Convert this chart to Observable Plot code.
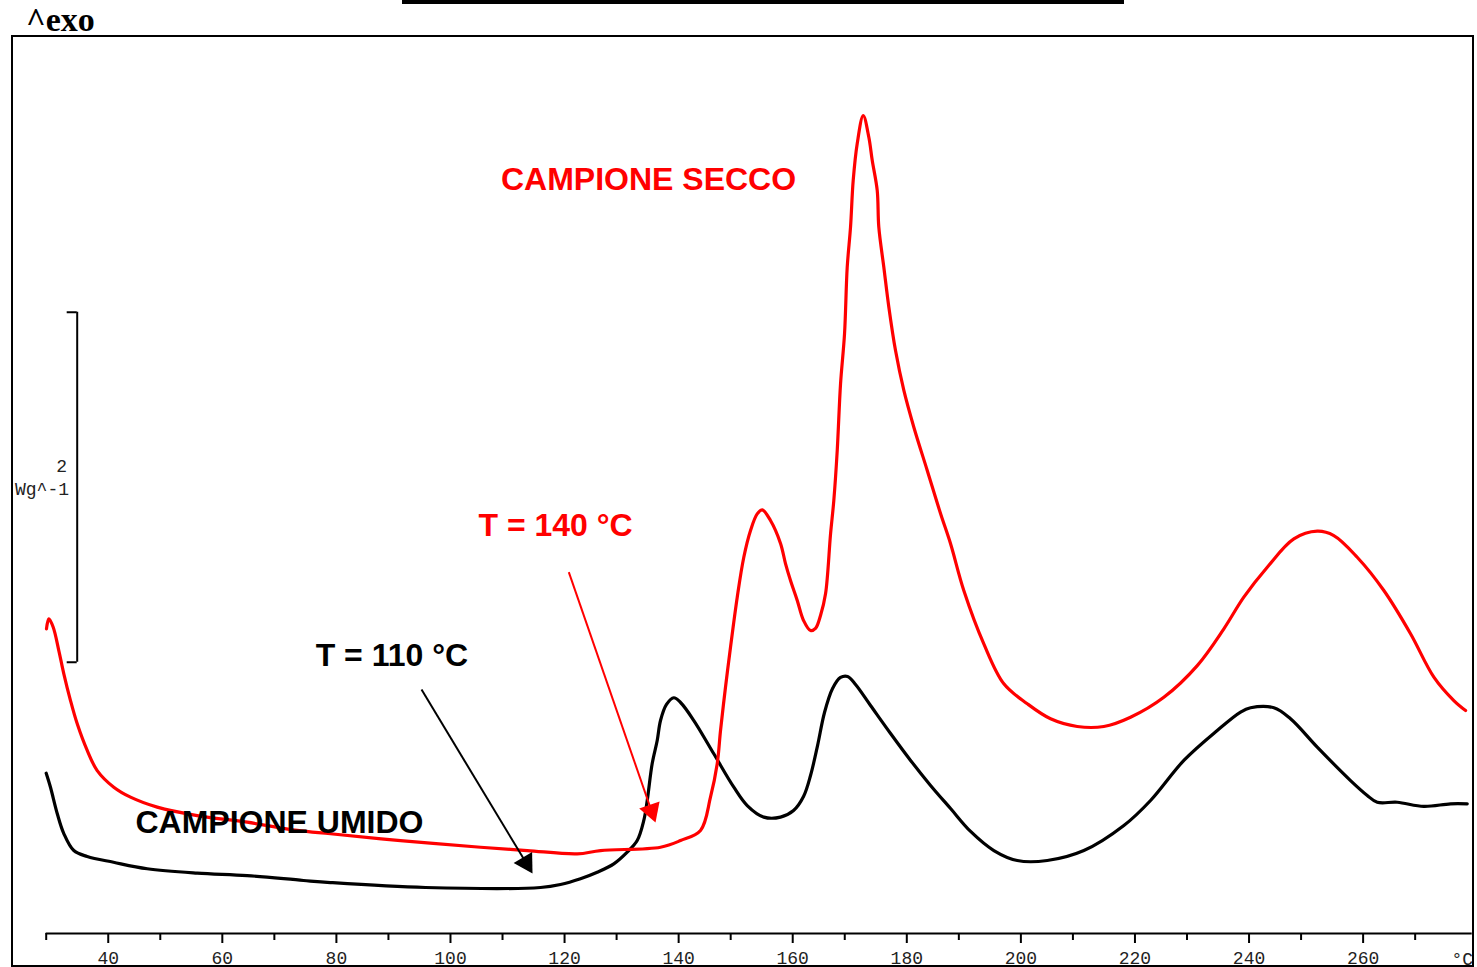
<!DOCTYPE html>
<html><head><meta charset="utf-8">
<script src="https://cdn.jsdelivr.net/npm/d3@7"></script>
<script src="https://cdn.jsdelivr.net/npm/@observablehq/plot@0.6"></script>
<style>
html,body{margin:0;padding:0;background:#fff;width:1477px;height:967px;overflow:hidden;}
#wrap{position:relative;width:1477px;height:967px;}
#frame{position:absolute;left:11px;top:35px;width:1463px;height:932px;box-sizing:border-box;border:2px solid #000;pointer-events:none;}
#bar{position:absolute;left:402px;top:0;width:722px;height:4px;background:#000;}
#exo{position:absolute;left:26px;top:3px;font:bold 34px "Liberation Serif",serif;line-height:34px;color:#000;}
</style>
</head><body>
<div id="wrap"><div id="chart"></div><div id="frame"></div><div id="bar"></div><div id="exo">^exo</div></div>
<script>
// Temperature (°C) and heat flow (W/g, arbitrary offset) — CAMPIONE UMIDO (black)
const umidoT = [30.0,30.75,31.93,33.09,34.84,37.19,41.80,47.71,56.47,65.24,75.11,79.84,96.50,116.66,120.16,123.67,126.60,129.51,131.86,133.61,134.77,135.37,136.24,137.12,137.70,138.75,140.03,141.21,143.54,147.04,150.55,152.90,155.81,158.74,161.02,162.77,164.00,165.23,166.45,167.86,169.26,170.49,171.89,174.52,178.03,181.54,185.04,188.55,192.06,196.14,200.24,205.50,211.92,218.93,223.61,229.45,235.30,239.39,241.14,245.23,248.15,252.83,258.67,261.60,263.35,266.86,271.52,276.20,279.13];
const umidoW = [0.916,0.836,0.686,0.571,0.474,0.440,0.407,0.370,0.345,0.331,0.303,0.291,0.263,0.263,0.280,0.313,0.350,0.398,0.465,0.531,0.646,0.760,0.971,1.103,1.217,1.309,1.347,1.320,1.217,1.027,0.836,0.731,0.665,0.665,0.703,0.783,0.903,1.074,1.263,1.400,1.463,1.469,1.423,1.303,1.143,0.989,0.846,0.714,0.583,0.474,0.417,0.417,0.474,0.617,0.760,0.989,1.160,1.265,1.290,1.290,1.227,1.065,0.874,0.789,0.750,0.750,0.726,0.741,0.741];
// CAMPIONE SECCO (red)
const seccoT = [30.05,30.46,31.23,32.21,33.09,34.26,35.44,37.19,38.94,41.85,44.78,49.46,56.47,65.24,74.00,79.84,92.11,106.14,114.33,123.09,127.18,137.70,141.21,144.71,146.46,147.64,148.22,149.09,149.97,151.15,152.30,153.48,154.65,155.53,156.98,158.74,159.61,160.49,161.67,162.77,164.00,164.87,165.75,166.63,167.51,168.08,168.68,169.26,169.96,170.43,171.01,171.48,172.18,173.24,174.22,174.82,175.69,175.97,176.85,177.73,178.90,180.36,182.11,184.46,186.79,188.55,190.87,194.38,197.89,201.99,206.08,210.76,215.42,220.10,225.94,231.80,236.46,239.96,244.07,248.73,252.83,255.74,259.84,264.51,269.19,273.28,276.78,278.84];
const seccoW = [1.741,1.798,1.750,1.617,1.484,1.331,1.198,1.046,0.931,0.836,0.779,0.722,0.674,0.636,0.589,0.570,0.531,0.493,0.474,0.455,0.474,0.493,0.531,0.589,0.779,0.970,1.160,1.407,1.636,1.922,2.150,2.303,2.398,2.421,2.360,2.229,2.114,2.017,1.903,1.789,1.731,1.743,1.817,1.941,2.284,2.474,2.760,3.141,3.427,3.807,4.036,4.303,4.513,4.674,4.550,4.417,4.246,4.036,3.807,3.579,3.331,3.103,2.893,2.646,2.400,2.227,1.960,1.655,1.427,1.313,1.227,1.183,1.183,1.236,1.350,1.531,1.741,1.922,2.093,2.255,2.299,2.274,2.150,1.960,1.713,1.465,1.331,1.274];
// Axis ticks
const majorTicks = [40,60,80,100,120,140,160,180,200,220,240,260];
const minorTicks = [30,50,70,90,110,130,150,170,190,210,230,250,270];
const xUnit = "°C";
// Scale bar: 2 W/g
const scaleBarLabel = "2";
const scaleBarUnit = "Wg^-1";
const scaleBarValue = 2;

// Annotations (data coordinates)
const labels = [
  {text:"CAMPIONE SECCO", T:135.6, W:4.309, color:"#ff0000"},
  {text:"T = 140 °C", T:119.3, W:2.331, color:"#ff0000"},
  {text:"T = 110 °C", T:90.6, W:1.589, color:"#000000"},
  {text:"CAMPIONE UMIDO", T:70.9, W:0.634, color:"#000000"}
];
const arrows = [
  {T1:121.62, W1:2.065, T2:136.82, W2:0.634, color:"#ff0000"},
  {T1:95.80, W1:1.394, T2:115.26, W2:0.343, color:"#000000"}
];

const xDomain = [30, 280], yDomain = [0, 5.1257];
const W = 1477, H = 967, mL = 45.7, mR = 5.3, mT = 36, mB = 34;
const kx = (W - mL - mR) / (xDomain[1] - xDomain[0]);
const ky = (H - mT - mB) / (yDomain[1] - yDomain[0]);
const headR = 8;
const tipDist = 2 * Math.sqrt(Math.PI * headR * headR / (3 * Math.sqrt(3)));
const heads = arrows.map(a => {
  const dx = (a.T2 - a.T1) * kx, dy = -(a.W2 - a.W1) * ky;
  const L = Math.hypot(dx, dy);
  const ux = dx / L, uy = dy / L;
  const cx = a.T2 - ux * tipDist / kx, cy = a.W2 + uy * tipDist / ky;
  return {T1:a.T1, W1:a.W1, cT:cx, cW:cy, rot: Math.atan2(dx, -dy) * 180 / Math.PI, color:a.color};
});

const umido = umidoT.map((t,i)=>({T:t, W:umidoW[i]}));
const secco = seccoT.map((t,i)=>({T:t, W:seccoW[i]}));

const barX = 35.435, barTickX = 33.68, barY1 = 1.55, barY2 = barY1 + scaleBarValue;
const mono = "Liberation Mono, DejaVu Sans Mono, monospace";

const plot = Plot.plot({
  width: W, height: H,
  marginLeft: mL, marginRight: mR, marginTop: mT, marginBottom: mB,
  style: {background:"transparent", overflow:"visible"},
  x: {domain: xDomain},
  y: {domain: yDomain, axis: null},
  marks: [
    Plot.ruleY([0], {stroke:"#000", strokeWidth:2}),
    Plot.axisX({ticks: minorTicks, tickSize: 7, tickFormat: () => "", strokeWidth: 2, stroke:"#000"}),
    Plot.axisX({ticks: majorTicks, tickSize: 10, tickPadding: 8, dx: 5, strokeWidth: 2, stroke:"#000",
      fontSize: 18, fontFamily: mono, fill:"#222", tickFormat: d => String(d)}),
    Plot.text([xUnit], {x: () => xDomain[1], y: () => -0.146, dx: -10, fontSize: 18, fontFamily: mono, fill:"#222"}),
    // scale bar
    Plot.ruleX([barX], {y1: barY1, y2: barY2, stroke:"#000", strokeWidth:2}),
    Plot.ruleY([barY1, barY2], {x1: barTickX, x2: barX, stroke:"#000", strokeWidth:2}),
    Plot.text([scaleBarLabel], {x: () => 33.65, y: () => 2.669, textAnchor:"end", fontSize:18, fontFamily: mono, fill:"#222"}),
    Plot.text([scaleBarUnit], {x: () => 34.0, y: () => 2.537, textAnchor:"end", fontSize:18, fontFamily: mono, fill:"#222"}),
    // curves
    Plot.line(umido, {x:"T", y:"W", stroke:"#000", strokeWidth:3.2, strokeLinejoin:"round", curve:"catmull-rom"}),
    Plot.line(secco, {x:"T", y:"W", stroke:"#ff0000", strokeWidth:3.2, strokeLinejoin:"round", curve:"catmull-rom"}),
    // arrows
    Plot.link(heads, {x1:"T1", y1:"W1", x2:"cT", y2:"cW", stroke: d => d.color, strokeWidth: 2}),
    Plot.dot(heads, {x:"cT", y:"cW", symbol:"triangle", r: headR, fill: d => d.color, stroke:"none", rotate: "rot"}),
    // labels
    Plot.text(labels, {x:"T", y:"W", text:"text", fill: d => d.color, fontSize: 32, fontWeight:"bold",
      fontFamily:"Liberation Sans, Arial, sans-serif"})
  ]
});
document.getElementById("chart").appendChild(plot);
</script>
</body></html>
